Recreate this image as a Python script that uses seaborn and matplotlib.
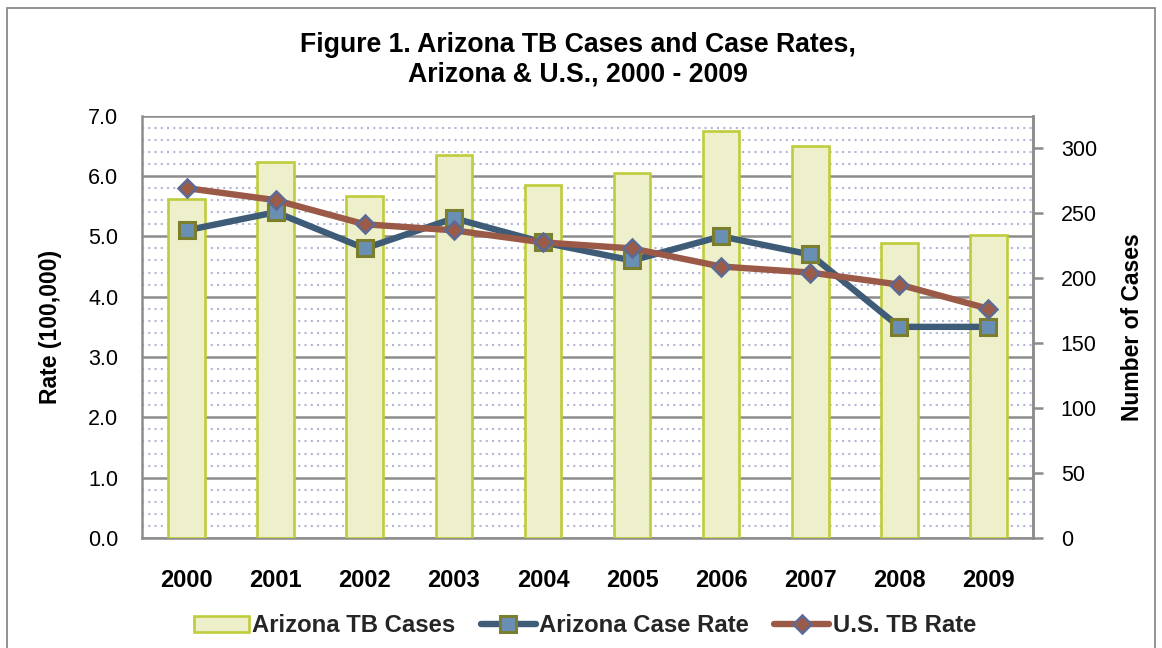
import matplotlib
matplotlib.use("Agg")
import matplotlib.pyplot as plt
import seaborn as sns
import numpy as np
import pandas as pd
from matplotlib.patches import Patch, Rectangle
from matplotlib.lines import Line2D
from matplotlib.ticker import MultipleLocator, FormatStrFormatter

# ---- data ----
years = ["2000", "2001", "2002", "2003", "2004", "2005", "2006", "2007", "2008", "2009"]
az_cases = [261, 289, 263, 295, 272, 281, 313, 302, 227, 233]
az_rate = [5.1, 5.4, 4.8, 5.3, 4.9, 4.6, 5.0, 4.7, 3.5, 3.5]
us_rate = [5.8, 5.6, 5.2, 5.1, 4.9, 4.8, 4.5, 4.4, 4.2, 3.8]

title = "Figure 1. Arizona TB Cases and Case Rates,\nArizona & U.S., 2000 - 2009"
left_label = "Rate (100,000)"
right_label = "Number of Cases"
legend_labels = ["Arizona TB Cases", "Arizona Case Rate", "U.S. TB Rate"]

# ---- style ----
sns.set_theme(style="white")
plt.rcParams["font.family"] = ["Liberation Sans", "DejaVu Sans"]

bar_face = "#EDF0CA"
bar_edge = "#BFCC3C"
az_line = "#3E5B78"
az_face = "#6A8FB5"
az_edge = "#7A7E2D"
us_line = "#9B5A48"
us_face = "#9A5B49"
us_edge = "#5C6A96"
major_grid = "#8C8C8C"
minor_grid = "#B4B6D6"

W, H = 1162, 648
fig = plt.figure(figsize=(W / 100, H / 100), dpi=100)
fig.patch.set_facecolor("white")

# outer frame
fig.patches.append(Rectangle((7 / W, -0.01), (1155 - 7) / W, 1.01 - 8 / H,
                             transform=fig.transFigure, fill=False,
                             edgecolor="#8A8A8A", linewidth=1.3))

L, R, B, T = 142, 1033, 538, 115.7
ax = fig.add_axes([L / W, 1 - B / H, (R - L) / W, (B - T) / H])
ax2 = ax.twinx()
ax3 = ax.twinx()

df = pd.DataFrame({"year": years, "cases": az_cases, "az": az_rate, "us": us_rate})

# bars (secondary axis)
sns.barplot(data=df, x="year", y="cases", ax=ax2, color=bar_face, width=0.41,
            edgecolor=bar_edge, linewidth=1.9, saturation=1)
for p in ax2.patches:
    p.set_facecolor(bar_face)
    p.set_edgecolor(bar_edge)

# lines (primary scale, on top)
sns.pointplot(data=df, x="year", y="az", ax=ax3, color=az_line, markers="s",
              linestyles="-", errorbar=None, linewidth=4.6, markersize=12,
              markeredgewidth=2.2)
sns.pointplot(data=df, x="year", y="us", ax=ax3, color=us_line, markers="D",
              linestyles="-", errorbar=None, linewidth=4.6, markersize=9.5,
              markeredgewidth=1.8)
for ln in ax3.lines:
    if ln.get_marker() == "s":
        ln.set_markerfacecolor(az_face)
        ln.set_markeredgecolor(az_edge)
        ln.set_zorder(3)
    elif ln.get_marker() == "D":
        ln.set_markerfacecolor(us_face)
        ln.set_markeredgecolor(us_edge)
        ln.set_zorder(4)

# limits
ax.set_ylim(0, 7)
ax3.set_ylim(0, 7)
ax2.set_ylim(0, 325)
ax.set_xlim(-0.5, 9.5)

# primary axis: grid + labels
ax.yaxis.set_major_locator(MultipleLocator(1.0))
ax.yaxis.set_minor_locator(MultipleLocator(0.2))
ax.yaxis.set_major_formatter(FormatStrFormatter("%.1f"))
ax.grid(which="major", axis="y", color=major_grid, linewidth=1.8, linestyle="-")
ax.grid(which="minor", axis="y", color=minor_grid, linewidth=1.5, linestyle=(0, (1, 2)))
ax.grid(which="both", axis="x", visible=False)
ax.tick_params(axis="y", which="both", left=False, length=0, pad=17, labelsize=15.5, labelcolor="black")
ax.set_xticks(range(len(years)))
ax.set_xticklabels(years, fontweight="bold", fontsize=17)
ax.tick_params(axis="x", which="both", bottom=False, length=0, pad=22, labelcolor="black")
ax.set_ylabel(left_label, fontsize=16.5, fontweight="bold", color="black", labelpad=19)
ax.set_xlabel("")
for s in ["left", "bottom", "right", "top"]:
    ax.spines[s].set_color(major_grid)
    ax.spines[s].set_linewidth(1.8)
ax.spines["top"].set_visible(False)

# secondary axis ticks
ax2.yaxis.set_major_locator(MultipleLocator(50))
ax2.tick_params(axis="y", which="major", right=True, direction="out", length=7,
                width=1.8, color=major_grid, pad=13, labelsize=15.5, labelcolor="black")
ax2.set_ylabel(right_label, fontsize=16.5, fontweight="bold", color="black", labelpad=17)
ax2.set_xlabel("")
ax2.grid(False)
for s in ["left", "bottom", "top"]:
    ax2.spines[s].set_visible(False)
ax2.spines["right"].set_color(major_grid)
ax2.spines["right"].set_linewidth(1.8)

# ax3 cleanup
ax3.set_axis_off()

# title
fig.text(578 / W, 1 - 60 / H, title, ha="center", va="center", fontsize=19.2,
         fontweight="bold", linespacing=1.15, color="black")

# legend
handles = [
    Patch(facecolor=bar_face, edgecolor=bar_edge, linewidth=1.9),
    Line2D([], [], color=az_line, linewidth=4.6, marker="s", markersize=12,
           markerfacecolor=az_face, markeredgecolor=az_edge, markeredgewidth=2.2),
    Line2D([], [], color=us_line, linewidth=4.6, marker="D", markersize=9.5,
           markerfacecolor=us_face, markeredgecolor=us_edge, markeredgewidth=1.8),
]
leg = fig.legend(handles, legend_labels, loc="center", bbox_to_anchor=(585 / W, 1 - 626 / H),
                 ncol=3, frameon=False, handlelength=2.3, handleheight=0.6,
                 handletextpad=0.15, columnspacing=1.05,
                 prop={"weight": "bold", "size": 17.2})

fig.savefig("out.png", dpi=100)
